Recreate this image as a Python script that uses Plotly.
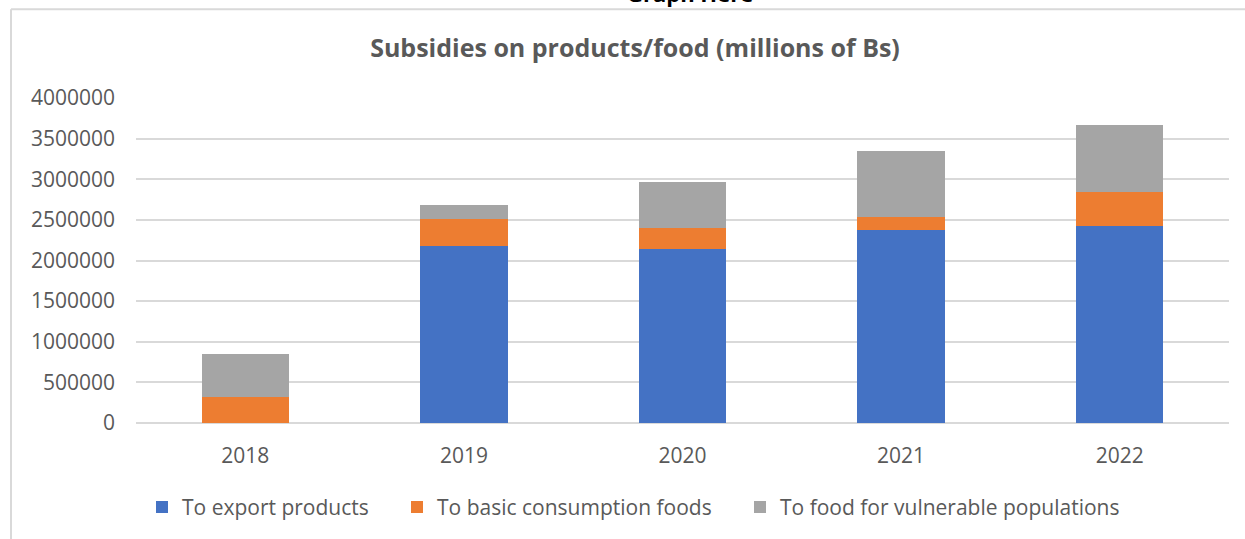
import plotly.graph_objects as go

years = ["2018", "2019", "2020", "2021", "2022"]
export_products = [0, 2184000, 2147000, 2373000, 2430000]
basic_foods = [317000, 328000, 258000, 167000, 410000]
vulnerable_food = [537000, 172000, 558000, 811000, 823000]

series = [
    ("To export products", export_products, "#4472C4"),
    ("To basic consumption foods", basic_foods, "#ED7D31"),
    ("To food for vulnerable populations", vulnerable_food, "#A5A5A5"),
]

FONT = "Open Sans"
GRAY = "#595959"

W, H = 1245, 539
L, R, T, B = 136, 16, 98, 115.5
PH = H - T - B
PW = W - L - R

# pixel x where each legend entry's text starts in the reference
legend_text_x = [182, 437, 780]
legend_keys = ["legend", "legend2", "legend3"]

fig = go.Figure()
for (name, vals, color), lk in zip(series, legend_keys):
    fig.add_trace(go.Bar(x=years, y=vals, name=name, legend=lk, showlegend=True,
                         marker=dict(color=color, line=dict(width=0))))

legend_layout = {}
for lk, tx in zip(legend_keys, legend_text_x):
    legend_layout[lk] = dict(
        orientation="h",
        x=(tx - 40) / W, xanchor="left", xref="container",
        y=-(508 - (H - B)) / PH, yanchor="middle",
        font=dict(family=FONT, size=21, color=GRAY),
        bgcolor="rgba(0,0,0,0)",
        visible=True,
    )

fig.update_layout(
    width=W, height=H,
    showlegend=True,
    barmode="stack",
    bargap=0.6,
    plot_bgcolor="white",
    paper_bgcolor="white",
    margin=dict(l=L, r=R, t=T, b=B, autoexpand=False),
    font=dict(family=FONT, color=GRAY, size=21),
    title=dict(
        text="<b>Subsidies on products/food (millions of Bs)</b>",
        x=635 / W, xanchor="center",
        y=1 - 48 / H, yanchor="middle",
        font=dict(family=FONT, size=25, color=GRAY),
    ),
    xaxis=dict(
        showgrid=False, showline=False, ticks="",
        ticklabelstandoff=18,
        tickfont=dict(family=FONT, size=21, color=GRAY),
    ),
    yaxis=dict(
        range=[0, 4000000], dtick=500000, tickformat="d",
        showgrid=True, gridcolor="#D9D9D9", gridwidth=1.5,
        zeroline=True, zerolinecolor="#D9D9D9", zerolinewidth=1.5,
        showline=False, ticks="", ticklabelstandoff=20,
        tickfont=dict(family=FONT, size=21, color=GRAY),
    ),
    annotations=[
        dict(
            text="<b>Graph Here</b>", xref="paper", yref="paper",
            x=(690 - L) / PW, y=1 + (T + 7) / PH,
            xanchor="center", yanchor="middle", showarrow=False,
            font=dict(family=FONT, size=22, color="#000000"),
        )
    ],
    shapes=[
        dict(type="line", xref="paper", yref="paper",
             x0=-(L - 11) / PW, x1=1 + R / PW,
             y0=1 + (T - 9) / PH, y1=1 + (T - 9) / PH,
             line=dict(color="#D9D9D9", width=2)),
        dict(type="line", xref="paper", yref="paper",
             x0=-(L - 11) / PW, x1=-(L - 11) / PW,
             y0=1 + (T - 9) / PH, y1=-(B + 5) / PH,
             line=dict(color="#D9D9D9", width=2)),
    ],
    **legend_layout,
)

fig.write_html(
    "out.html",
    config={"displayModeBar": False},
    post_script="document.body.style.margin='0';document.body.style.overflow='hidden';",
)
